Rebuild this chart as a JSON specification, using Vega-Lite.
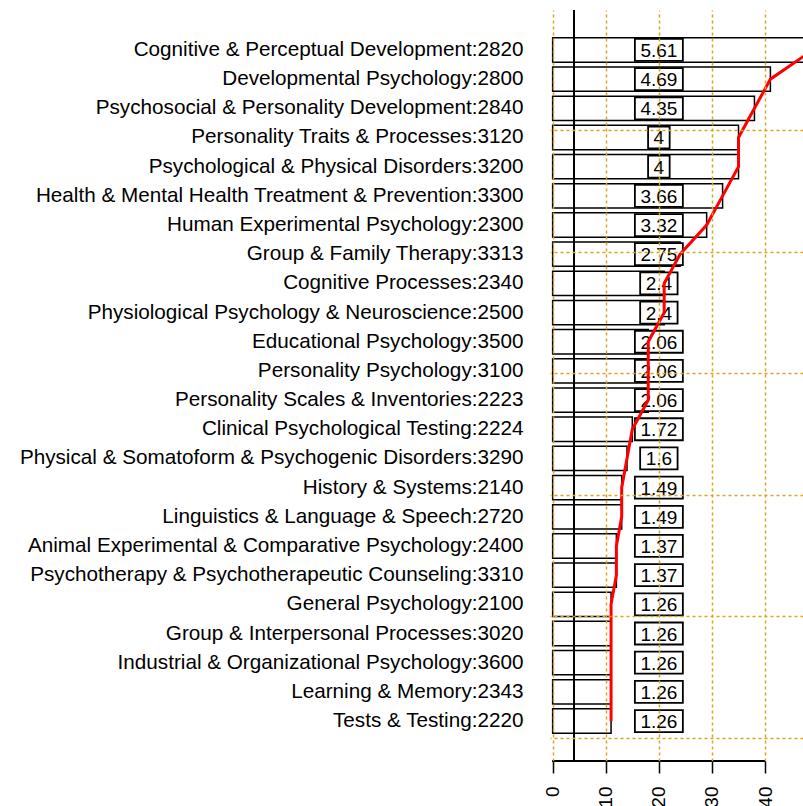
{
  "$schema": "https://vega.github.io/schema/vega-lite/v6.json",
  "width": 253,
  "height": 751,
  "autosize": {"type": "none"},
  "padding": {"left": 550, "top": 10, "right": 0, "bottom": 45},
  "background": "white",
  "config": {"view": {"stroke": null}},
  "data": {"values": [
    {"name": "Cognitive & Perceptual Development:2820", "count": 49, "pct": "5.61"},
    {"name": "Developmental Psychology:2800", "count": 41, "pct": "4.69"},
    {"name": "Psychosocial & Personality Development:2840", "count": 38, "pct": "4.35"},
    {"name": "Personality Traits & Processes:3120", "count": 35, "pct": "4"},
    {"name": "Psychological & Physical Disorders:3200", "count": 35, "pct": "4"},
    {"name": "Health & Mental Health Treatment & Prevention:3300", "count": 32, "pct": "3.66"},
    {"name": "Human Experimental Psychology:2300", "count": 29, "pct": "3.32"},
    {"name": "Group & Family Therapy:3313", "count": 24, "pct": "2.75"},
    {"name": "Cognitive Processes:2340", "count": 21, "pct": "2.4"},
    {"name": "Physiological Psychology & Neuroscience:2500", "count": 21, "pct": "2.4"},
    {"name": "Educational Psychology:3500", "count": 18, "pct": "2.06"},
    {"name": "Personality Psychology:3100", "count": 18, "pct": "2.06"},
    {"name": "Personality Scales & Inventories:2223", "count": 18, "pct": "2.06"},
    {"name": "Clinical Psychological Testing:2224", "count": 15, "pct": "1.72"},
    {"name": "Physical & Somatoform & Psychogenic Disorders:3290", "count": 14, "pct": "1.6"},
    {"name": "History & Systems:2140", "count": 13, "pct": "1.49"},
    {"name": "Linguistics & Language & Speech:2720", "count": 13, "pct": "1.49"},
    {"name": "Animal Experimental & Comparative Psychology:2400", "count": 12, "pct": "1.37"},
    {"name": "Psychotherapy & Psychotherapeutic Counseling:3310", "count": 12, "pct": "1.37"},
    {"name": "General Psychology:2100", "count": 11, "pct": "1.26"},
    {"name": "Group & Interpersonal Processes:3020", "count": 11, "pct": "1.26"},
    {"name": "Industrial & Organizational Psychology:3600", "count": 11, "pct": "1.26"},
    {"name": "Learning & Memory:2343", "count": 11, "pct": "1.26"},
    {"name": "Tests & Testing:2220", "count": 11, "pct": "1.26"}
  ]},
  "resolve": {"scale": {"y": "independent"}, "axis": {"y": "independent"}},
  "layer": [
    {
      "encoding": {
        "y": {
          "field": "name", "type": "nominal", "sort": null, "title": null,
          "scale": {"paddingInner": 0.1667, "paddingOuter": 0.9533},
          "axis": {
            "orient": "left", "domain": false, "ticks": false, "labelPadding": 27,
            "labelFont": "Liberation Sans", "labelFontSize": 20.7, "labelColor": "black",
            "labelLimit": 0, "title": null
          }
        }
      },
      "layer": [
        {
          "mark": {"type": "bar", "fill": "white", "stroke": "black", "strokeWidth": 1.5, "clip": true},
          "encoding": {
            "x": {
              "field": "count", "type": "quantitative", "title": null,
              "scale": {"domain": [-0.5, 47.14], "nice": false, "zero": false},
              "axis": {
                "orient": "bottom", "values": [0, 10, 20, 30, 40], "domain": false,
                "ticks": true, "tickColor": "black", "tickSize": 12, "tickWidth": 1.5,
                "labelAngle": 270, "labelAlign": "right", "labelBaseline": "middle",
                "labelPadding": 13, "labelFont": "Liberation Sans", "labelFontSize": 19,
                "labelColor": "black", "title": null,
                "grid": true, "gridColor": "#DAA520", "gridDash": [3, 3], "gridWidth": 1.5,
                "zindex": 1
              }
            },
            "x2": {"datum": 0}
          }
        },
        {
          "transform": [
            {"calculate": "length(replace(datum.pct, '.', ''))", "as": "nd"},
            {"calculate": "(19 * (0.556 * datum.nd + 0.278 * (length(datum.pct) - datum.nd)) + 11) / 2 / 5.311", "as": "hw"},
            {"calculate": "20 - datum.hw", "as": "lo"},
            {"calculate": "20 + datum.hw", "as": "hi"}
          ],
          "mark": {"type": "bar", "fill": "white", "stroke": "black", "strokeWidth": 1.8, "height": 22},
          "encoding": {
            "x": {"field": "lo", "type": "quantitative", "title": null},
            "x2": {"field": "hi"}
          }
        },
        {
          "mark": {"type": "text", "font": "Liberation Sans", "fontSize": 19, "align": "center", "baseline": "middle", "color": "black", "dy": 1},
          "encoding": {
            "x": {"datum": 20},
            "text": {"field": "pct"}
          }
        },
        {
          "mark": {"type": "line", "color": "red", "strokeWidth": 3, "clip": true},
          "encoding": {
            "x": {"field": "count", "type": "quantitative", "title": null},
            "order": {"value": null}
          }
        }
      ]
    },
    {
      "layer": [
        {
          "mark": {"type": "rule", "color": "black", "strokeWidth": 1.5},
          "encoding": {"x": {"datum": 4}}
        },
        {
          "mark": {"type": "rule", "color": "black", "strokeWidth": 1.5},
          "encoding": {
            "x": {"datum": 0},
            "x2": {"datum": 40},
            "y": {
              "datum": -0.944, "type": "quantitative", "title": null,
              "scale": {"domain": [-0.944, 29.944], "nice": false, "zero": false},
              "axis": {
                "orient": "right", "values": [0, 5, 10, 15, 20, 25], "labels": false,
                "ticks": false, "domain": false, "title": null,
                "grid": true, "gridColor": "#DAA520", "gridDash": [3, 3], "gridWidth": 1.5,
                "zindex": 1
              }
            }
          }
        }
      ]
    }
  ]
}
